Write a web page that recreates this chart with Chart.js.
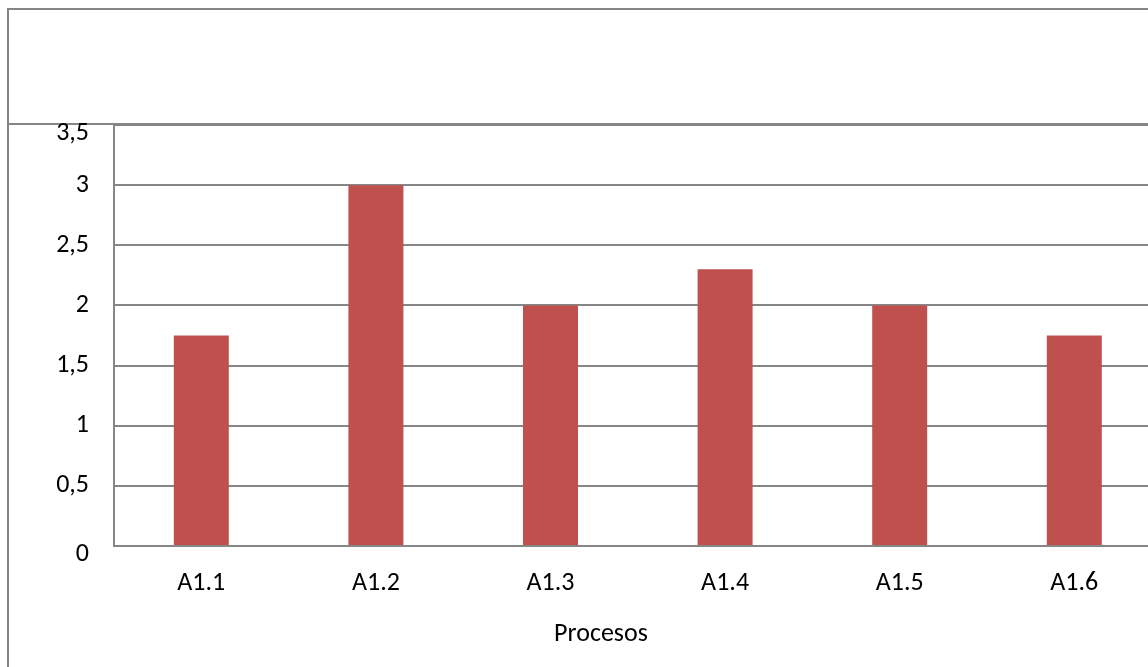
<!DOCTYPE html>
<html>
<head>
<meta charset="utf-8">
<script src="https://cdn.jsdelivr.net/npm/chart.js@4"></script>
<style>
  html, body { margin: 0; padding: 0; background: #fff; overflow: hidden; width: 1148px; height: 667px; position: relative; }
  /* outer chart frame and the empty title strip */
  #frame { position: absolute; left: 7px; top: 8px; width: 2000px; height: 2000px; box-sizing: border-box;
           border-left: 2px solid #868686; border-top: 2px solid #868686; }
  #titleRule { position: absolute; left: 7px; top: 123px; width: 2000px; height: 2px; background: #868686; }
  #wrap { position: absolute; left: 0; top: 118px; }
</style>
</head>
<body>
<div id="frame"></div>
<div id="titleRule"></div>
<div id="wrap"><canvas id="c" width="1202" height="549"></canvas></div>
<script>
const categories = ['A1.1', 'A1.2', 'A1.3', 'A1.4', 'A1.5', 'A1.6'];
const values = [1.75, 3, 2, 2.3, 2, 1.75];
const yTicks = [0, 0.5, 1, 1.5, 2, 2.5, 3, 3.5];
const xTitle = 'Procesos';

const FONT = 'Calibri, Carlito, Lato, sans-serif';
const GRAY = '#868686';

// decimal comma; the first and last labels sit a little below their gridline
function yLabel(value, index, ticks) {
  const text = String(value).replace('.', ',');
  return (index === 0 || index === ticks.length - 1) ? ['', text] : text;
}

new Chart(document.getElementById('c'), {
  type: 'bar',
  data: {
    labels: categories,
    datasets: [{
      data: values,
      backgroundColor: '#C0504D',
      borderWidth: 0,
      barPercentage: 0.315,
      categoryPercentage: 1
    }]
  },
  options: {
    responsive: false,
    animation: false,
    layout: { padding: { top: 7, left: 0, right: 0, bottom: 0 } },
    plugins: {
      legend: { display: false },
      tooltip: { enabled: false },
      // axis caption, centred on the whole frame
      title: {
        display: true,
        position: 'bottom',
        text: xTitle,
        color: '#000',
        font: { family: FONT, size: 26, weight: 'normal', lineHeight: 1.2 },
        padding: { top: 0, bottom: 17.4 }
      }
    },
    scales: {
      x: {
        offset: true,
        grid: { display: false, drawTicks: false },
        border: { display: true, color: GRAY, width: 2 },
        ticks: { color: '#000', font: { family: FONT, size: 26, lineHeight: 1.2 }, padding: 21.4, maxRotation: 0, autoSkip: false },
        // plot area runs on past the right edge of the frame
        afterFit: s => { s.height = 72.4; s.paddingLeft = 0; s.paddingRight = 40.4; }
      },
      y: {
        min: 0,
        max: 3.5,
        afterBuildTicks: s => { s.ticks = yTicks.map(v => ({ value: v })); },
        grid: { color: GRAY, lineWidth: 2, drawTicks: false },
        border: { color: GRAY, width: 2 },
        ticks: { color: '#000', font: { family: FONT, size: 26, lineHeight: 0.68 }, padding: 25, callback: yLabel },
        afterFit: s => { s.width = 114; s.paddingTop = 0; s.paddingBottom = 0; }
      }
    }
  }
});
</script>
</body>
</html>
